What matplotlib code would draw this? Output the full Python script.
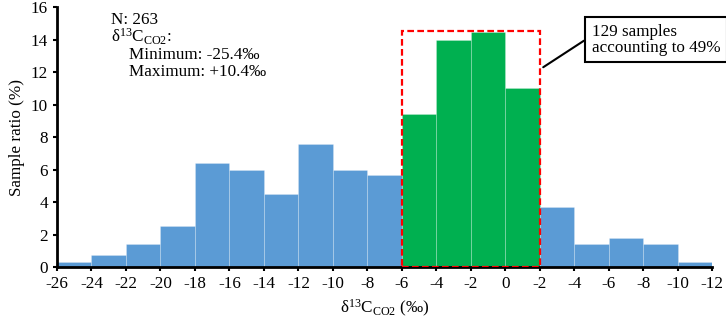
import matplotlib
matplotlib.use("Agg")
import matplotlib.pyplot as plt
from matplotlib.patches import Rectangle

# --- data (bin index 0..18, tick labels as printed in the source figure) ---
tick_labels = ["-26", "-24", "-22", "-20", "-18", "-16", "-14", "-12", "-10", "-8",
               "-6", "-4", "-2", "0", "-2", "-4", "-6", "-8", "-10", "-12"]
ratios = [0.3, 0.72, 1.45, 2.55, 6.4, 6.0, 4.5, 7.57, 6.0, 5.65,
          9.4, 14.0, 14.45, 11.0, 3.7, 1.45, 1.8, 1.45, 0.3]
highlight = [10, 11, 12, 13]   # bins inside the red box
box_top = 14.5

plt.rcParams["font.family"] = ["Liberation Serif", "DejaVu Serif"]
plt.rcParams["mathtext.fontset"] = "custom"
plt.rcParams["mathtext.rm"] = "Liberation Serif"
plt.rcParams["mathtext.it"] = "Liberation Serif:italic"

fs = 12.3

fig = plt.figure(figsize=(7.26, 3.23), dpi=100)
ax = fig.add_axes([0.0785, 0.173, 0.9025, 0.805])

blue = "#5B9BD5"
green = "#00B050"
colors = [green if i in highlight else blue for i in range(len(ratios))]
ax.bar(range(len(ratios)), ratios, width=1.0, align="edge", color=colors,
       edgecolor=(1, 1, 1, 0.3), linewidth=0.5)

# red dashed box around the highlighted bins
ax.add_patch(Rectangle((highlight[0], 0), len(highlight), box_top, fill=False,
                       edgecolor="red", linestyle=(0, (3, 1.5)), linewidth=1.6, zorder=5))

ax.set_xlim(0, len(ratios))
ax.set_ylim(0, 16)
ax.set_xticks(range(len(tick_labels)))
ax.set_xticklabels(tick_labels)
ax.set_yticks(range(0, 17, 2))
ax.tick_params(labelsize=fs, width=1.5, length=3, direction="out")
for s in ["top", "right"]:
    ax.spines[s].set_visible(False)
for s in ["left", "bottom"]:
    ax.spines[s].set_linewidth(2)

ax.set_ylabel("Sample ratio (%)", fontsize=fs)
ax.set_xlabel(r"δ$^{13}$C$_{\mathrm{CO2}}$ (‰)", fontsize=fs)

# stats text
ax.text(1.57, 15.2, "N: 263", fontsize=fs, va="center")
ax.text(1.57, 14.15, r"δ$^{13}$C$_{\mathrm{CO2}}$:", fontsize=fs, va="center")
ax.text(2.1, 13.05, "Minimum: -25.4‰", fontsize=fs, va="center")
ax.text(2.1, 12.0, "Maximum: +10.4‰", fontsize=fs, va="center")

# callout
ax.annotate("129 samples\naccounting to 49%", xy=(14.1, 12.3), xytext=(15.5, 14.0),
            fontsize=fs, va="center", ha="left", linespacing=1.0,
            bbox=dict(boxstyle="square,pad=0.4", fc="white", ec="black", lw=1.5),
            arrowprops=dict(arrowstyle="-", color="black", lw=1.5,
                            shrinkA=0, shrinkB=0, relpos=(0, 0.62)))

fig.savefig("out.png", dpi=100)
